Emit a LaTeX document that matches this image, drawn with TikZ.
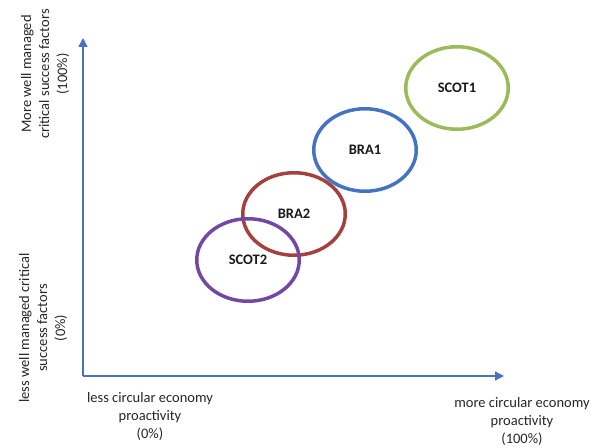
\documentclass[tikz,border=0pt]{standalone}
\usepackage{fontspec}
\setmainfont{Carlito}
\usetikzlibrary{arrows.meta,shapes.geometric}
\definecolor{axisblue}{HTML}{4A72C0}
\definecolor{scotgreen}{HTML}{9BBB59}
\definecolor{brablue}{HTML}{4472C4}
\definecolor{brared}{HTML}{A6403C}
\definecolor{scotpurple}{HTML}{7248A4}

\begin{document}
\begin{tikzpicture}[x=1pt, y=1pt,
    axis/.style={draw=axisblue, line width=1.4pt, -{Triangle[length=9pt,width=9pt]}},
    case/.style={ellipse, draw=#1, line width=3.5pt, minimum width=102.5pt,
      minimum height=82.5pt, inner sep=0pt, text=black!90,
      font=\fontsize{14.5}{18}\selectfont\bfseries},
    lbl/.style={align=center, text=black!85, inner sep=0pt,
      font=\fontsize{14.5}{18}\selectfont}]
  \useasboundingbox (0,0) rectangle (602,447);
  % axes
  \coordinate (o) at (83,71);
  \coordinate (ytip) at (83,409);
  \coordinate (xtip) at (504,71);
  \draw[axis] (o) -- (ytip);
  \draw[axis] (o) -- (xtip);
  % cases
  \node[case=scotgreen] (scot1) at (457,359) {SCOT1};
  \node[case=brablue] (bra1) at (365,297) {BRA1};
  \node[case=brared] (bra2) at (294,233) {BRA2};
  \node[case=scotpurple] (scot2) at (248,187) {SCOT2};
  % axis labels
  \node[lbl] (xlow) at (150,31) {less circular economy\\proactivity\\(0\%)};
  \node[lbl] (xhigh) at (522,26) {more circular economy\\proactivity\\(100\%)};
  \node[lbl, rotate=90] (yhigh) at (45,373) {More well managed\\critical success factors\\(100\%)};
  \node[lbl, rotate=90] (ylow) at (43,119) {less well managed critical\\success factors\\(0\%)};
\end{tikzpicture}
\end{document}
